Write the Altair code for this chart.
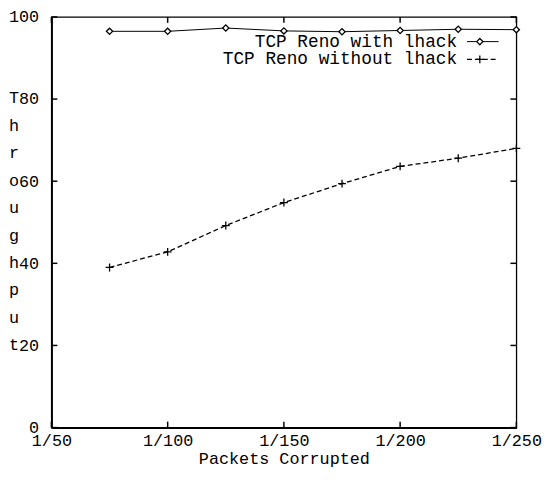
import altair as alt
import pandas as pd

# ---- data ----
corruption_denoms = [75, 100, 125, 150, 175, 200, 225, 250]
with_lhack = [96.5, 96.5, 97.3, 96.6, 96.4, 96.7, 97.0, 96.9]
without_lhack = [39.0, 42.8, 49.2, 54.8, 59.4, 63.6, 65.6, 68.0]
series_names = ["TCP Reno with lhack", "TCP Reno without lhack"]
x_ticks = [50, 100, 150, 200, 250]
y_ticks = [0, 20, 40, 60, 80, 100]
y_title_letters = list("Throughput")

W, H = 471, 416
FONT = "Liberation Mono"
FS = 17
TICK = 6

df = pd.DataFrame({
    "x": corruption_denoms * 2,
    "y": with_lhack + without_lhack,
    "series": [series_names[0]] * len(with_lhack) + [series_names[1]] * len(without_lhack),
})
df_with = df[df.series == series_names[0]]
df_without = df[df.series == series_names[1]]

xscale = alt.Scale(domain=[50, 250], nice=False, zero=False)
yscale = alt.Scale(domain=[0, 100], nice=False)

xaxis = alt.Axis(values=x_ticks, labelExpr="'1/' + datum.value", ticks=False, tickSize=0,
                 grid=False, labelPadding=5, title="Packets Corrupted", titlePadding=2,
                 domainColor="black", domainWidth=2, labelFont=FONT, labelFontSize=FS,
                 titleFont=FONT, titleFontSize=FS, titleFontWeight="normal",
                 labelColor="black", titleColor="black", labelFlush=False)
yaxis = alt.Axis(values=y_ticks, ticks=False, tickSize=0, grid=False, labelPadding=13,
                 title=y_title_letters, titleAngle=0, titleAlign="center",
                 titleBaseline="middle", titleX=-38.5, titleY=82,
                 titleLineHeight=27.8, domainColor="black", domainWidth=2,
                 labelFont=FONT, labelFontSize=FS, titleFont=FONT, titleFontSize=FS,
                 titleFontWeight="normal", labelColor="black", titleColor="black",
                 labelFlush=False)

base_x = alt.X("x:Q", scale=xscale, axis=xaxis)
base_y = alt.Y("y:Q", scale=yscale, axis=yaxis)

line_with = alt.Chart(df_with).mark_line(color="black", strokeWidth=1).encode(x=base_x, y=base_y)
pts_with = alt.Chart(df_with).mark_point(shape="diamond", size=40, filled=True, fill="white",
                                          stroke="black", strokeWidth=1.3, opacity=1).encode(x="x:Q", y="y:Q")
line_without = alt.Chart(df_without).mark_line(color="black", strokeWidth=1.3,
                                               strokeDash=[5, 3]).encode(x="x:Q", y="y:Q")
plus_path = "M-1,0L1,0M0,-1L0,1"
pts_without = alt.Chart(df_without).mark_point(shape=plus_path, size=64, filled=False,
                                               stroke="black", strokeWidth=1.3, opacity=1).encode(x="x:Q", y="y:Q")

# inward ticks on all four sides
xt = pd.DataFrame({"x": x_ticks})
yt = pd.DataFrame({"y": y_ticks})
tick_style = dict(color="black", strokeWidth=1.5)
bottom_ticks = alt.Chart(xt).mark_rule(**tick_style).encode(x="x:Q", y=alt.value(H), y2=alt.value(H - TICK))
top_ticks = alt.Chart(xt).mark_rule(**tick_style).encode(x="x:Q", y=alt.value(0), y2=alt.value(TICK))
left_ticks = alt.Chart(yt).mark_rule(**tick_style).encode(y="y:Q", x=alt.value(0), x2=alt.value(TICK))
right_ticks = alt.Chart(yt).mark_rule(**tick_style).encode(y="y:Q", x=alt.value(W), x2=alt.value(W - TICK))

# gnuplot-style key: text right-aligned, sample to its right
leg = pd.DataFrame({"series": series_names})
leg1 = leg[leg.series == series_names[0]]
leg2 = leg[leg.series == series_names[1]]
LX_TEXT, LX0, LX1, LXM = 411, 421, 453, 434
LY1, LY2 = 25, 43
LFS = 18
txt1 = alt.Chart(leg1).mark_text(align="right", baseline="middle", font=FONT, fontSize=LFS,
                                 color="black").encode(text="series:N", x=alt.value(LX_TEXT), y=alt.value(LY1))
txt2 = alt.Chart(leg2).mark_text(align="right", baseline="middle", font=FONT, fontSize=LFS,
                                 color="black").encode(text="series:N", x=alt.value(LX_TEXT), y=alt.value(LY2))
s1 = alt.Chart(leg1).mark_rule(color="black", strokeWidth=1).encode(
    x=alt.value(LX0), x2=alt.value(LX1), y=alt.value(LY1))
s2 = alt.Chart(leg2).mark_rule(color="black", strokeWidth=1.3, strokeDash=[5, 3]).encode(
    x=alt.value(LX0), x2=alt.value(LX1), y=alt.value(LY2))
m1 = alt.Chart(leg1).mark_point(shape="diamond", size=40, filled=True, fill="white", stroke="black",
                                strokeWidth=1.3, opacity=1).encode(x=alt.value(LXM), y=alt.value(LY1))
m2 = alt.Chart(leg2).mark_point(shape=plus_path, size=64, filled=False, stroke="black",
                                strokeWidth=1.3, opacity=1).encode(x=alt.value(LXM), y=alt.value(LY2))

chart = alt.layer(
    line_with, line_without, pts_without, pts_with,
    bottom_ticks, top_ticks, left_ticks, right_ticks,
    txt1, txt2, s1, s2, m1, m2,
).properties(
    width=W, height=H,
    autosize=alt.AutoSizeParams(type="none"),
    padding={"left": 44, "top": 6, "right": 27, "bottom": 46},
    background="white",
).configure_view(stroke="black", strokeWidth=1.3)

chart.save("out.html", embed_options={"renderer": "svg", "actions": False})
